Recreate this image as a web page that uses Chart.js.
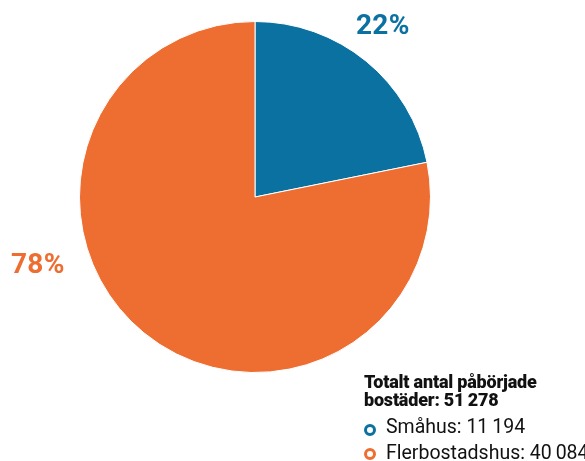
<!DOCTYPE html>
<html><head><meta charset="utf-8">
<script src="https://cdn.jsdelivr.net/npm/chart.js@4"></script>
<style>
html,body{margin:0;padding:0;background:#fff;}
#wrap{position:relative;width:585px;height:461px;overflow:hidden;font-family:Roboto,"Open Sans",sans-serif;}
canvas{position:absolute;left:0;top:0;}
.pct{position:absolute;font-weight:700;font-size:28px;letter-spacing:0.3px;line-height:1;}
.title{position:absolute;left:364px;top:373px;font-size:18px;line-height:18px;font-weight:900;color:#111;letter-spacing:-0.2px;white-space:nowrap;}
.item{position:absolute;left:386px;font-size:19.5px;line-height:26px;color:#111;white-space:nowrap;letter-spacing:0px;}
.ring{position:absolute;box-sizing:border-box;width:12px;height:12px;border-radius:50%;border:3.5px solid;}
</style></head>
<body><div id="wrap"><canvas id="c" width="585" height="461"></canvas></div>
<script>
const categories = ["Småhus", "Flerbostadshus"];
const values = [11194, 40084];
const colors = ["#0A71A0", "#EE6D30"];
const legendTitle = ["Totalt antal påbörjade", "bostäder:"];

const total = values.reduce((a,b)=>a+b,0);
const fmt = n => String(n).replace(/\B(?=(\d{3})+(?!\d))/g, "\u2009");

new Chart(document.getElementById('c'), {
  type: 'pie',
  data: { labels: categories, datasets: [{ data: values, backgroundColor: colors, borderColor: '#fff', borderWidth: 1 }] },
  options: {
    responsive: false, animation: false,
    layout: { padding: { left: 79, right: 154, top: 21, bottom: 88 } },
    plugins: { legend: { display: false }, tooltip: { enabled: false } }
  }
});

const wrap = document.getElementById('wrap');
const pctPos = [{left: 356, top: 11}, {left: 11, top: 250}];
values.forEach((v,i)=>{
  const d = document.createElement('div');
  d.className = 'pct';
  d.style.color = colors[i];
  d.style.left = pctPos[i].left + 'px';
  d.style.top = pctPos[i].top + 'px';
  d.textContent = Math.round(v/total*100) + '%';
  wrap.appendChild(d);
});

const t = document.createElement('div');
t.className = 'title';
t.innerHTML = legendTitle[0] + '<br>' + legendTitle[1] + ' ' + fmt(total);
wrap.appendChild(t);

categories.forEach((c,i)=>{
  const top = 414 + i*26;
  const it = document.createElement('div');
  it.className = 'item';
  it.style.top = top + 'px';
  it.textContent = c + ': ' + fmt(values[i]);
  wrap.appendChild(it);
  const r = document.createElement('div');
  r.className = 'ring';
  r.style.borderColor = colors[i];
  r.style.left = '364px';
  r.style.top = (424 + i*24) + 'px';
  wrap.appendChild(r);
});
</script></body></html>
